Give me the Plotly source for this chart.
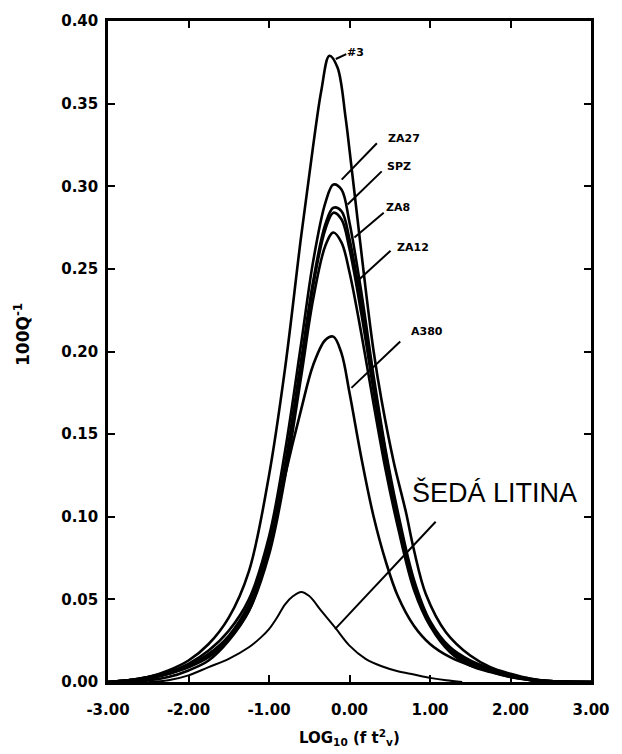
import plotly.graph_objects as go

# ---- data ----
x_grid = [-3.0, -2.75, -2.5, -2.25, -2.0, -1.75, -1.5, -1.25, -1.0, -0.8, -0.6, -0.45,
          -0.3, -0.2, -0.1, 0.0, 0.15, 0.3, 0.45, 0.6, 0.8, 1.0, 1.25, 1.5, 1.75, 2.0,
          2.25, 2.5, 3.0]

x_no3 = [-3.0, -2.75, -2.5, -2.25, -2.0, -1.75, -1.5, -1.25, -1.0, -0.8, -0.6, -0.45,
         -0.35, -0.25, -0.15, -0.05, 0.0, 0.1, 0.2, 0.3, 0.4, 0.55, 0.7, 0.8, 0.95, 1.2,
         1.5, 1.75, 2.0, 2.25, 2.5, 3.0]
y_no3 = [0.0, 0.001, 0.003, 0.007, 0.013, 0.023, 0.039, 0.067, 0.125, 0.19, 0.27, 0.325,
         0.358, 0.379, 0.372, 0.342, 0.322, 0.28, 0.238, 0.2, 0.17, 0.133, 0.103, 0.08,
         0.053, 0.03, 0.016, 0.009, 0.005, 0.002, 0.0005, 0.0]

y_za27 = [0.0, 0.001, 0.003, 0.006, 0.011, 0.019, 0.031, 0.05, 0.088, 0.14, 0.205, 0.255,
          0.29, 0.301, 0.298, 0.278, 0.235, 0.185, 0.14, 0.103, 0.062, 0.037, 0.021,
          0.013, 0.008, 0.004, 0.002, 0.0005, 0.0]
y_spz = [0.0, 0.001, 0.003, 0.005, 0.010, 0.017, 0.028, 0.047, 0.083, 0.132, 0.195, 0.243,
         0.277, 0.287, 0.285, 0.268, 0.228, 0.182, 0.138, 0.1, 0.06, 0.036, 0.02,
         0.012, 0.007, 0.0035, 0.0015, 0.0005, 0.0]
y_za8 = [0.0, 0.001, 0.002, 0.005, 0.009, 0.016, 0.027, 0.045, 0.08, 0.128, 0.19, 0.24,
         0.274, 0.284, 0.28, 0.262, 0.222, 0.176, 0.133, 0.097, 0.058, 0.035, 0.019,
         0.011, 0.0065, 0.003, 0.0013, 0.0004, 0.0]
y_za12 = [0.0, 0.001, 0.002, 0.005, 0.009, 0.015, 0.026, 0.043, 0.077, 0.124, 0.185, 0.232,
          0.264, 0.272, 0.266, 0.248, 0.21, 0.168, 0.128, 0.094, 0.056, 0.034, 0.018,
          0.01, 0.006, 0.003, 0.0012, 0.0004, 0.0]
y_a380 = [0.0, 0.0, 0.001, 0.003, 0.007, 0.013, 0.025, 0.043, 0.08, 0.125, 0.165, 0.192,
          0.207, 0.209, 0.199, 0.175, 0.135, 0.1, 0.073, 0.052, 0.034, 0.023, 0.015,
          0.01, 0.0065, 0.0035, 0.001, 0.0, 0.0]

x_seda = [-2.5, -2.25, -2.0, -1.75, -1.5, -1.25, -1.1, -1.0, -0.9, -0.8, -0.7, -0.6, -0.5,
          -0.35, -0.18, 0.0, 0.2, 0.4, 0.6, 0.8, 1.0, 1.2, 1.4]
y_seda = [0.0, 0.001, 0.004, 0.009, 0.014, 0.021, 0.027, 0.032, 0.039, 0.047, 0.052, 0.0545,
          0.052, 0.043, 0.033, 0.022, 0.014, 0.0095, 0.0065, 0.0045, 0.0025, 0.001, 0.0]

x_tickvals = [-3, -2, -1, 0, 1, 2, 3]
x_ticktext = ["-3.00", "-2.00", "-1.00", "0.00", "1.00", "2.00", "3.00"]
y_tickvals = [0.0, 0.05, 0.10, 0.15, 0.20, 0.25, 0.30, 0.35, 0.40]

label_names = ["#3", "ZA27", "SPZ", "ZA8", "ZA12", "A380"]
label_pos = [(0.08, 0.381), (0.68, 0.3286), (0.62, 0.312), (0.607, 0.287), (0.79, 0.263), (0.96, 0.212)]
leaders = [(-0.17, 0.377, -0.04, 0.380), (0.34, 0.326, -0.097, 0.304),
           (0.40, 0.309, -0.024, 0.289), (0.425, 0.284, 0.061, 0.269),
           (0.51, 0.261, 0.085, 0.242), (0.63, 0.206, 0.024, 0.178)]
seda_label = "ŠEDÁ LITINA"
seda_pos = (1.80, 0.1145)
seda_leader = (1.07, 0.097, -0.18, 0.032)

fig = go.Figure()
line_main = dict(color="black", width=2.6, shape="spline", smoothing=1.0)
for xs, ys in [(x_no3, y_no3), (x_grid, y_za27), (x_grid, y_spz), (x_grid, y_za8),
               (x_grid, y_za12), (x_grid, y_a380)]:
    fig.add_trace(go.Scatter(x=xs, y=ys, mode="lines", line=line_main, showlegend=False,
                             hoverinfo="skip"))
fig.add_trace(go.Scatter(x=x_seda, y=y_seda, mode="lines",
                         line=dict(color="black", width=2.0, shape="spline", smoothing=1.0),
                         showlegend=False, hoverinfo="skip"))

for name, (tx, ty), (x0, y0, x1, y1) in zip(label_names, label_pos, leaders):
    fig.add_shape(type="line", xref="x", yref="y", x0=x0, y0=y0, x1=x1, y1=y1,
                  line=dict(color="black", width=2))
    fig.add_annotation(x=tx, y=ty, xref="x", yref="y", text=name, showarrow=False,
                       font=dict(family="DejaVu Sans", size=11, color="black", weight="bold"),
                       xanchor="center", yanchor="middle")

x0, y0, x1, y1 = seda_leader
fig.add_shape(type="line", xref="x", yref="y", x0=x0, y0=y0, x1=x1, y1=y1,
              line=dict(color="black", width=2))
fig.add_annotation(x=seda_pos[0], y=seda_pos[1], xref="x", yref="y", text=seda_label,
                   showarrow=False, font=dict(family="Liberation Sans", size=27, color="black"),
                   xanchor="center", yanchor="middle")

fig.add_annotation(xref="paper", yref="paper", x=-0.178, y=0.525, text="100Q<sup>-1</sup>",
                   textangle=-90, showarrow=False,
                   font=dict(family="DejaVu Sans", size=17, color="black", weight="bold"),
                   xanchor="center", yanchor="middle")
fig.add_annotation(xref="paper", yref="paper", x=0.5, y=-0.084,
                   text="LOG<sub>10</sub> (f t<sup>2</sup><sub>v</sub>)",
                   showarrow=False,
                   font=dict(family="DejaVu Sans", size=15, color="black", weight="bold"),
                   xanchor="center", yanchor="middle")

axis_common = dict(showline=True, linewidth=2.5, linecolor="black", mirror="ticks",
                   ticks="inside", ticklen=7, tickwidth=2, tickcolor="black",
                   showgrid=False, zeroline=False,
                   tickfont=dict(family="DejaVu Sans", size=15, color="black", weight="bold"))
fig.update_xaxes(range=[-3, 3], tickvals=x_tickvals, ticktext=x_ticktext, **axis_common)
fig.update_yaxes(range=[0, 0.40], tickvals=y_tickvals, tickformat=".2f", **axis_common)
fig.update_xaxes(ticklabelstandoff=12)
fig.update_yaxes(ticklabelstandoff=4)

fig.update_layout(width=622, height=754, margin=dict(l=108, r=20, t=15, b=72),
                  paper_bgcolor="white", plot_bgcolor="white")
fig.write_html("out.html")
